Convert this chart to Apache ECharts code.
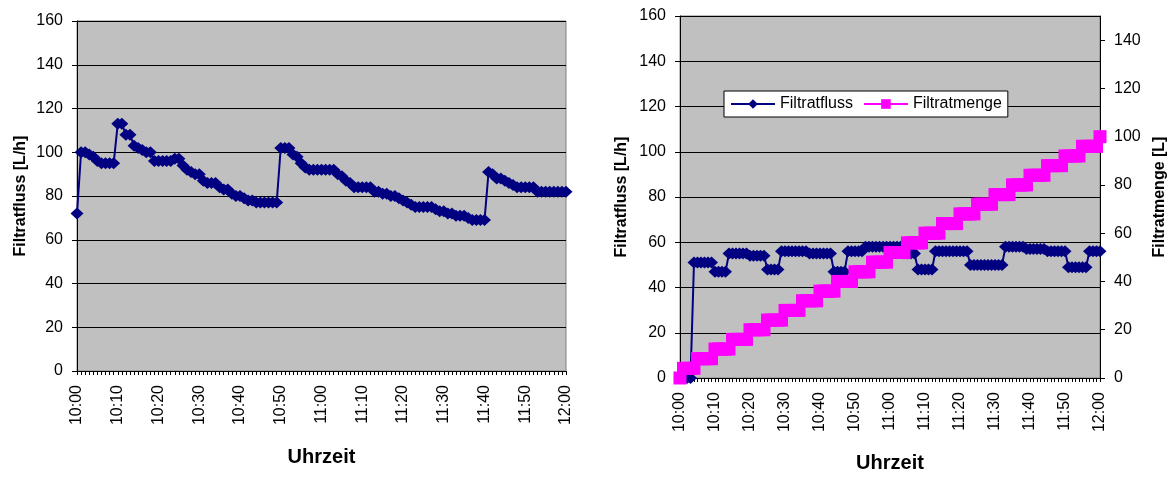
<!DOCTYPE html>
<html>
<head>
<meta charset="utf-8">
<script src="https://cdn.jsdelivr.net/npm/echarts@6/dist/echarts.min.js"></script>
<style>
  html, body { margin: 0; padding: 0; background: #ffffff; }
  #chart { width: 1176px; height: 478px; }
</style>
</head>
<body>
<div id="chart"></div>
<script>
// Time categories: one per minute from 10:00 to 12:00
const times = [];
for (let m = 0; m <= 120; m++) {
  const h = 10 + Math.floor(m / 60);
  times.push(h + ':' + String(m % 60).padStart(2, '0'));
}

// Run 1: filtrate flow [L/h], one value per minute
const flowRun1 = [
  72, 100, 100, 99, 98, 96, 95, 95, 95, 95,
  113, 113, 108, 108, 103, 102, 101, 100, 100, 96,
  96, 96, 96, 96, 97, 97, 94, 92, 91, 90,
  90, 87, 86, 86, 86, 84, 83, 83, 81, 80,
  80, 79, 78, 78, 77, 77, 77, 77, 77, 77,
  102, 102, 102, 99, 98, 95, 93, 92, 92, 92,
  92, 92, 92, 92, 90, 89, 87, 86, 84, 84,
  84, 84, 84, 82, 82, 81, 81, 80, 80, 79,
  78, 77, 76, 75, 75, 75, 75, 75, 74, 73,
  73, 72, 72, 71, 71, 71, 70, 69, 69, 69,
  69, 91, 90, 88, 88, 87, 86, 85, 84, 84,
  84, 84, 84, 82, 82, 82, 82, 82, 82, 82,
  82
];

// Run 2: filtrate flow [L/h]
const flowRun2 = [
  0, 0, 0, 0, 51, 51, 51, 51, 51, 51,
  47, 47, 47, 47, 55, 55, 55, 55, 55, 55,
  54, 54, 54, 54, 54, 48, 48, 48, 48, 56,
  56, 56, 56, 56, 56, 56, 56, 55, 55, 55,
  55, 55, 55, 55, 47, 47, 47, 47, 56, 56,
  56, 56, 56, 58, 58, 58, 58, 58, 58, 58,
  58, 58, 58, 58, 55, 55, 55, 55, 48, 48,
  48, 48, 48, 56, 56, 56, 56, 56, 56, 56,
  56, 56, 56, 50, 50, 50, 50, 50, 50, 50,
  50, 50, 50, 58, 58, 58, 58, 58, 58, 57,
  57, 57, 57, 57, 57, 56, 56, 56, 56, 56,
  56, 49, 49, 49, 49, 49, 49, 56, 56, 56,
  56
];

// Run 2: cumulative filtrate volume [L]
const volumeRun2 = [
  0, 4, 4, 4, 4, 8, 8, 8, 8, 8,
  12, 12, 12, 12, 12, 16, 16, 16, 16, 16,
  20, 20, 20, 20, 20, 24, 24, 24, 24, 24,
  28, 28, 28, 28, 28, 32, 32, 32, 32, 32,
  36, 36, 36, 36, 36, 40, 40, 40, 40, 40,
  44, 44, 44, 44, 44, 48, 48, 48, 48, 48,
  52, 52, 52, 52, 52, 56, 56, 56, 56, 56,
  60, 60, 60, 60, 60, 64, 64, 64, 64, 64,
  68, 68, 68, 68, 68, 72, 72, 72, 72, 72,
  76, 76, 76, 76, 76, 80, 80, 80, 80, 80,
  84, 84, 84, 84, 84, 88, 88, 88, 88, 88,
  92, 92, 92, 92, 92, 96, 96, 96, 96, 96,
  100
];

// Axis ranges
const flowAxis = { min: 0, max: 160, step: 20 };
const volumeAxis = { min: 0, max: 150, step: 20 };

const font = '"Liberation Sans", Arial, sans-serif';
const navy = '#000080';
const magenta = '#FF00FF';
const plotBg = '#C0C0C0';

function timeAxis(gridIndex, gap) {
  return {
    type: 'category',
    gridIndex: gridIndex,
    data: times,
    boundaryGap: false,
    axisLine: { show: true, lineStyle: { color: '#000', width: 1 } },
    axisTick: { show: true, interval: 0, length: 4, lineStyle: { color: '#000' } },
    axisLabel: { interval: 9, rotate: 90, fontSize: 16, color: '#000', margin: 14, fontFamily: font },
    splitLine: { show: false },
    name: 'Uhrzeit',
    nameLocation: 'middle',
    nameGap: gap,
    nameTextStyle: { fontSize: 20, fontWeight: 'bold', color: '#000', fontFamily: font }
  };
}

function valueAxis(gridIndex, range, opts) {
  return Object.assign({
    type: 'value',
    gridIndex: gridIndex,
    min: range.min,
    max: range.max,
    interval: range.step,
    axisLine: { show: true, lineStyle: { color: '#000', width: 1 } },
    axisTick: { show: true, length: 5, lineStyle: { color: '#000' } },
    axisLabel: { fontSize: 16, color: '#000', margin: 14, fontFamily: font },
    splitLine: { show: true, lineStyle: { color: '#000', width: 1 } },
    nameLocation: 'middle',
    nameRotate: 90,
    nameTextStyle: { fontSize: 16, fontWeight: 'bold', color: '#000', fontFamily: font }
  }, opts);
}

const chart = echarts.init(document.getElementById('chart'), null, { renderer: 'canvas' });

chart.setOption({
  animation: false,
  backgroundColor: '#ffffff',
  textStyle: { fontFamily: font },
  grid: [
    { left: 77, top: 21, width: 489, height: 350, show: true, backgroundColor: plotBg, borderColor: '#808080', borderWidth: 1 },
    { left: 680, top: 16, width: 420, height: 365, show: true, backgroundColor: plotBg, borderColor: '#808080', borderWidth: 1 }
  ],
  legend: {
    data: ['Filtratfluss', 'Filtratmenge'],
    left: 724,
    top: 91,
    orient: 'horizontal',
    backgroundColor: '#ffffff',
    borderColor: '#000',
    borderWidth: 1,
    borderRadius: 0,
    padding: [5, 6, 5, 6],
    itemWidth: 44,
    itemHeight: 12,
    itemGap: 10,
    textStyle: { fontSize: 16, color: '#000', fontFamily: font }
  },
  xAxis: [timeAxis(0, 76), timeAxis(1, 75)],
  yAxis: [
    valueAxis(0, flowAxis, { name: 'Filtratfluss [L/h]', nameGap: 48 }),
    valueAxis(1, flowAxis, { name: 'Filtratfluss [L/h]', nameGap: 50 }),
    valueAxis(1, volumeAxis, {
      position: 'right',
      name: 'Filtratmenge [L]',
      nameGap: 52,
      splitLine: { show: false },
      axisLabel: { fontSize: 16, color: '#000', margin: 14, fontFamily: font, showMaxLabel: false }
    })
  ],
  series: [
    {
      name: 'Filtratfluss', type: 'line', xAxisIndex: 0, yAxisIndex: 0,
      data: flowRun1, symbol: 'diamond', symbolSize: [13, 12], showAllSymbol: true,
      itemStyle: { color: navy }, lineStyle: { color: navy, width: 2 }, z: 2
    },
    {
      name: 'Filtratfluss', type: 'line', xAxisIndex: 1, yAxisIndex: 1,
      data: flowRun2, symbol: 'diamond', symbolSize: [13, 12], showAllSymbol: true,
      itemStyle: { color: navy }, lineStyle: { color: navy, width: 2 }, z: 2
    },
    {
      name: 'Filtratmenge', type: 'line', xAxisIndex: 1, yAxisIndex: 2,
      data: volumeRun2, symbol: 'rect', symbolSize: 13, showAllSymbol: true,
      itemStyle: { color: magenta }, lineStyle: { color: magenta, width: 2 }, z: 3
    }
  ]
});
</script>
</body>
</html>
